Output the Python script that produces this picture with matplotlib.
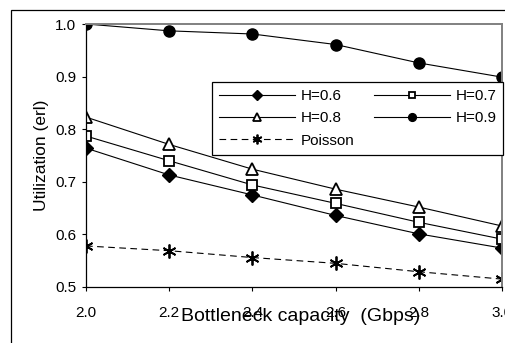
import matplotlib
matplotlib.use('Agg')
import matplotlib.pyplot as plt
from matplotlib.patches import Rectangle

plt.rcParams['font.family'] = ['Liberation Sans', 'DejaVu Sans']

capacity = [2.0, 2.2, 2.4, 2.6, 2.8, 3.0]
h06 = [0.764, 0.713, 0.675, 0.636, 0.601, 0.574]
h07 = [0.787, 0.740, 0.694, 0.659, 0.623, 0.591]
h08 = [0.823, 0.771, 0.724, 0.686, 0.652, 0.616]
h09 = [1.000, 0.987, 0.981, 0.961, 0.926, 0.899]
poisson = [0.578, 0.569, 0.556, 0.545, 0.529, 0.515]

W, H = 505, 343
fig = plt.figure(figsize=(W / 100, H / 100), dpi=100)
ax = fig.add_axes([86 / W, 1 - 287 / H, (502 - 86) / W, (287 - 24) / H])

# outer frame, cut off by the image edge on the right and bottom
fig.patches.append(Rectangle((11 / W, -0.1), 1.2, 1.1 - 10 / H, transform=fig.transFigure,
                             fill=False, ec='black', lw=0.9, clip_on=False))

l6, = ax.plot(capacity, h06, '-', color='black', lw=0.8, marker='D', ms=7, mfc='black', mec='black', label='H=0.6')
l7, = ax.plot(capacity, h07, '-', color='black', lw=0.8, marker='s', ms=7, mfc='white', mec='black', mew=1.3, label='H=0.7')
l8, = ax.plot(capacity, h08, '-', color='black', lw=0.8, marker='^', ms=9, mfc='white', mec='black', mew=1.3, label='H=0.8')
l9, = ax.plot(capacity, h09, '-', color='black', lw=0.8, marker='o', ms=8, mfc='black', mec='black', label='H=0.9')
lp, = ax.plot(capacity, poisson, '--', color='black', lw=0.8, dashes=(6, 4), marker=(6, 2, 0), ms=10, mew=1.3,
              mec='black', label='Poisson')

ax.set_xlim(2.0, 3.0)
ax.set_ylim(0.5, 1.0)
ax.set_xticks(capacity)
ax.set_xticklabels(['%.1f' % c for c in capacity])
ax.set_yticks([0.5, 0.6, 0.7, 0.8, 0.9, 1.0])
ax.set_yticklabels(['0.5', '0.6', '0.7', '0.8', '0.9', '1.0'])
ax.tick_params(axis='both', direction='out', length=3, width=0.8, labelsize=11)
ax.tick_params(axis='x', pad=11)
ax.tick_params(axis='y', pad=4)

for s in ['left', 'bottom']:
    ax.spines[s].set_color('black')
    ax.spines[s].set_linewidth(0.9)
for s in ['top', 'right']:
    ax.spines[s].set_color('#808080')
    ax.spines[s].set_linewidth(1.4)

ax.set_xlabel('Bottleneck capacity  (Gbps)', fontsize=14)
ax.xaxis.set_label_coords(0.515, -0.078)
ax.set_ylabel('Utilization (erl)', fontsize=12.5)
ax.yaxis.set_label_coords(-0.09, 0.5)

leg = ax.legend([l6, l8, lp, l7, l9], ['H=0.6', 'H=0.8', 'Poisson', 'H=0.7', 'H=0.9'],
                ncol=2, loc='upper left', bbox_to_anchor=(212 / W, 1 - 82 / H),
                bbox_transform=fig.transFigure, borderaxespad=0, fontsize=11,
                frameon=True, fancybox=False, edgecolor='black', framealpha=1,
                handlelength=5.0, handletextpad=0.33, columnspacing=1.3,
                labelspacing=0.55, markerscale=0.7, numpoints=1, borderpad=0.45)
leg.get_frame().set_linewidth(0.9)

fig.savefig('out.png', dpi=100)
